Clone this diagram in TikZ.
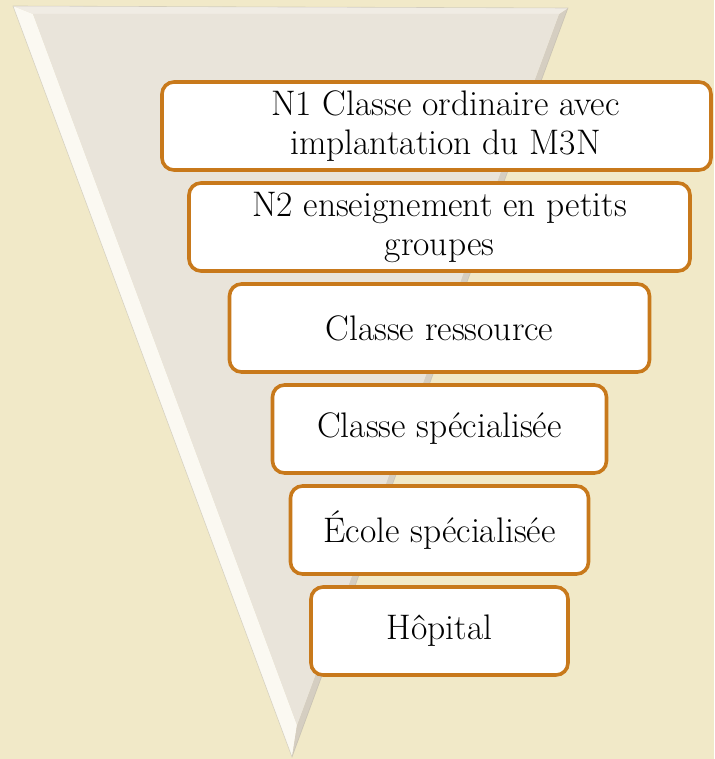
\documentclass[tikz,border=0pt]{standalone}
\usepackage{xcolor}
\usepackage{tikz}
\usetikzlibrary{positioning}
\definecolor{parchemin}{HTML}{F1E9C8}
\definecolor{fondtri}{HTML}{E9E4DA}
\definecolor{faceg}{HTML}{FBF9F2}
\definecolor{faced}{HTML}{D5CEC1}
\definecolor{faceh}{HTML}{F0ECE4}
\definecolor{bordure}{HTML}{C8791B}

\begin{document}
\begin{tikzpicture}[x=1pt,y=-1pt,node distance=9.4pt, niveau/.style={draw=bordure,line width=3.6pt,fill=white,rounded corners=12pt,align=center,minimum height=88pt,inner sep=2pt,font=\fontsize{35.5}{39}\selectfont}]
\fill[parchemin] (0,0) rectangle (714,759);
\useasboundingbox (0,0) rectangle (714,759);
\coordinate (hg) at (13,6);
\coordinate (hd) at (568,8);
\coordinate (pt) at (292,757);
\coordinate (hgi) at (33,14);
\coordinate (hdi) at (559,14);
\coordinate (pti) at (297,725);
\fill[faceg] (hg)--(pt)--(pti)--(hgi)--cycle;
\fill[faced] (hd)--(pt)--(pti)--(hdi)--cycle;
\fill[faceh] (hg)--(hd)--(hdi)--(hgi)--cycle;
\fill[fondtri] (hgi)--(hdi)--(pti)--cycle;
\draw[faced!80!black,line width=0.6pt,opacity=0.4] (hg)--(hd)--(pt)--cycle;
\node[niveau,minimum width=549pt] (n1) at (436.5,126) {\hspace*{18pt}N1 Classe ordinaire avec\\\hspace*{18pt}implantation du M3N};
\node[niveau,minimum width=501pt,below=of n1,xshift=3pt] (n2) {N2 enseignement en petits\\groupes};
\node[niveau,minimum width=420pt,below=of n2] (ressource) {Classe ressource};
\node[niveau,minimum width=334pt,below=of ressource] (specialisee) {Classe spécialisée};
\node[niveau,minimum width=298pt,below=of specialisee] (ecole) {École spécialisée};
\node[niveau,minimum width=257pt,below=of ecole] (hopital) {Hôpital};
\end{tikzpicture}
\end{document}
